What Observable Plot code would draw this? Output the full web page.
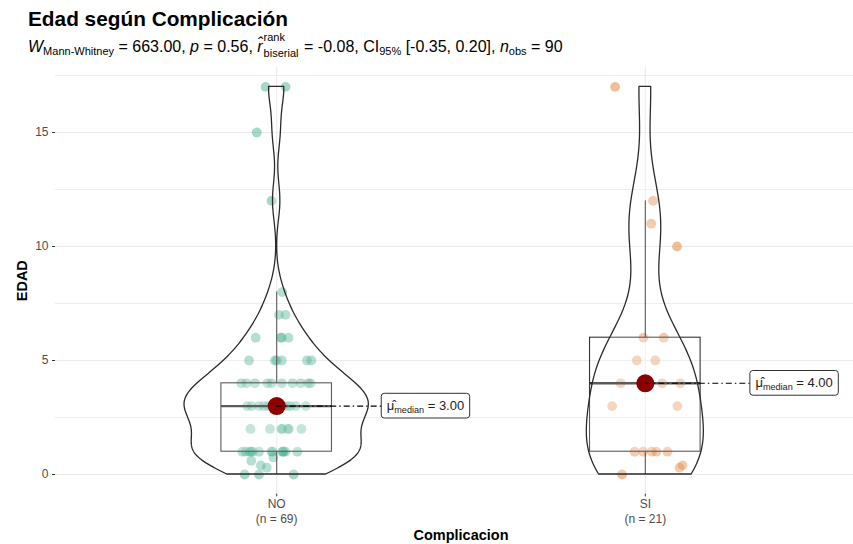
<!DOCTYPE html>
<html>
<head>
<meta charset="utf-8">
<script src="https://cdn.jsdelivr.net/npm/d3@7"></script>
<script src="https://cdn.jsdelivr.net/npm/@observablehq/plot@0.6"></script>
<style>
  body { margin: 0; background: #fff; width: 853px; height: 544px; overflow: hidden;
         font-family: "Liberation Sans", Arial, sans-serif; }
  #head { position: relative; width: 853px; height: 60px; }
  #title { position: absolute; left: 28px; top: 7px; font-size: 20.8px; font-weight: bold;
           color: #000; white-space: nowrap; line-height: 24px; }
  #sub { position: absolute; left: 28px; top: 38px; font-size: 16px; color: #000;
         white-space: nowrap; line-height: 18px; }
  #sub sub { font-size: 11px; vertical-align: -3px; line-height: 0; }
  .stack { display: inline-block; position: relative; width: 37px; height: 10px; vertical-align: baseline; }
  .stack .up { position: absolute; left: 1px; top: -10px; font-size: 11px; line-height: 10px; }
  .stack .dn { position: absolute; left: 1px; top: 6px; font-size: 11px; line-height: 10px; }
  svg g[aria-label^="y-axis"] text, svg g[aria-label^="x-axis"] text { fill: #4D4D4D; }
</style>
</head>
<body>
<div id="head">
  <div id="title">Edad según Complicación</div>
  <div id="sub"><i>W</i><sub>Mann-Whitney</sub> = 663.00, <i>p</i> = 0.56, <i>r̂</i><span class="stack"><span class="up">rank</span><span class="dn">biserial</span></span> = -0.08, CI<sub>95%</sub> [-0.35, 0.20], <i>n</i><sub>obs</sub> = 90</div>
</div>
<script>
// ---------- data ----------
const categories = ["NO", "SI"];
const groupN = [69, 21];
const groupColors = ["#1B9E77", "#D95F02"];

// EDAD values for Complicacion = NO
const noEdad = [
  17, 17, 15, 12, 8, 7, 7, 6, 6, 6, 6,
  5, 5, 5, 5, 5, 5,
  4, 4, 4, 4, 4, 4, 4, 4, 4, 4,
  3, 3, 3, 3, 3, 3, 3, 3, 3, 3, 3, 3, 3, 3, 3,
  2, 2, 2, 2, 2, 2, 2,
  1, 1, 1, 1, 1, 1, 1, 1, 1, 1, 1, 1, 1,
  0.75, 0.6, 0.4, 0.3,
  0, 0, 0
];
// horizontal jitter of each NO point (category units)
const noJitter = [
  -0.030, 0.024, -0.054, -0.014, 0.015, 0.006, 0.024, -0.057, 0.011, 0.032, 0.014,
  -0.075, -0.005, 0.014, 0.082, 0.094, 0.000,
  -0.096, -0.082, -0.059, -0.025, -0.014, 0.014, 0.043, 0.065, 0.085, 0.092,
  -0.080, -0.068, -0.048, -0.035, -0.024, -0.014, -0.003, 0.000, 0.008, 0.014, 0.019, 0.029, 0.038, 0.052, 0.079,
  -0.071, -0.018, 0.013, 0.015, 0.030, 0.033, 0.067,
  -0.093, -0.084, -0.073, -0.070, -0.065, -0.048, -0.014, -0.011, 0.015, 0.017, 0.019, 0.024, 0.056,
  -0.009, -0.069, -0.043, -0.027,
  -0.087, -0.048, 0.046
];

// EDAD values for Complicacion = SI
const siEdad = [17, 12, 11, 10, 6, 6, 5, 5, 4, 4, 4, 3, 3, 1, 1, 1, 1, 1, 0.4, 0.3, 0];
const siJitter = [
  -0.082, 0.021, 0.016, 0.086, -0.005, 0.050, -0.023, 0.027, -0.067, 0.046, 0.095,
  -0.090, 0.087, -0.029, -0.006, 0.018, 0.030, 0.060, 0.101, 0.093, -0.063
];

const yTicks = [0, 5, 10, 15];
const yMinor = [2.5, 7.5, 12.5, 17.5];

// ---------- derived tables ----------
const groups = [noEdad, siEdad];
const jitters = [noJitter, siJitter];
const points = groups.map((vals, g) => vals.map((v, i) => ({pos: g + 1, edad: v, jit: jitters[g][i]})));

function bwNrd0(x) {
  const sd = d3.deviation(x);
  const s = x.slice().sort(d3.ascending);
  const iqr = d3.quantileSorted(s, 0.75) - d3.quantileSorted(s, 0.25);
  const lo = Math.min(sd, iqr / 1.34);
  return 0.9 * lo * Math.pow(x.length, -0.2);
}

const stats = groups.map((vals, g) => {
  const s = vals.slice().sort(d3.ascending);
  const q1 = d3.quantileSorted(s, 0.25), med = d3.quantileSorted(s, 0.5), q3 = d3.quantileSorted(s, 0.75);
  const iqr = q3 - q1;
  const hi = d3.max(s.filter(v => v <= q3 + 1.5 * iqr));
  const lo = d3.min(s.filter(v => v >= q1 - 1.5 * iqr));
  return {pos: g + 1, q1, med, q3, hi, lo, label: d3.format(".2f")(med)};
});

// gaussian kernel density, trimmed to the data range (like geom_violin, trim = TRUE)
const dens = groups.map((vals, g) => {
  const bw = bwNrd0(vals);
  const mn = d3.min(vals), mx = d3.max(vals), n = 512;
  const out = [];
  for (let k = 0; k < n; k++) {
    const y = mn + (mx - mn) * k / (n - 1);
    let s = 0;
    for (const v of vals) { const u = (y - v) / bw; s += Math.exp(-0.5 * u * u); }
    out.push({pos: g + 1, y, d: s / (vals.length * bw * Math.sqrt(2 * Math.PI))});
  }
  return out;
});
const maxD = d3.max(dens.flat(), d => d.d);
const violin = dens.flat().map(r => ({pos: r.pos, y: r.y, x1: r.pos - 0.25 * r.d / maxD, x2: r.pos + 0.25 * r.d / maxD}));

const xCats = categories.map((c, i) => ({pos: i + 1, c, n: groupN[i]}));

// ---------- label mark ----------
const ctx = document.createElement("canvas").getContext("2d");
function tw(str, size) { ctx.font = `${size}px "Liberation Sans"`; return ctx.measureText(str).width; }

function medianLabels(index, scales) {
  const g = d3.create("svg:g");
  if (!scales || typeof scales.x !== "function") return g.node();
  for (const s of stats) {
    const x0 = scales.x(s.pos + 0.285), y0 = scales.y(s.med);
    const rest = " = " + s.label;
    const pad = 5.5;
    const w = tw("μ", 13) + tw("median", 9.1) + tw(rest, 13) + 2 * pad;
    const gg = g.append("g").attr("transform", `translate(${x0},${y0})`);
    gg.append("rect").attr("x", 0).attr("y", -12.3).attr("width", w).attr("height", 24.7)
      .attr("rx", 3).attr("fill", "white").attr("stroke", "#333").attr("stroke-width", 1);
    const t = gg.append("text").attr("x", pad).attr("y", 4.6).attr("fill", "#222")
      .attr("text-anchor", "start")
      .attr("font-size", 13).attr("font-family", '"Liberation Sans", Arial, sans-serif');
    t.append("tspan").text("μ\u0302");
    t.append("tspan").attr("font-size", 9.1).attr("dy", 3).text("median");
    t.append("tspan").attr("dy", -3).text(rest);
  }
  return g.node();
}

const chart = Plot.plot({
  width: 853,
  height: 484,
  marginTop: 7,
  marginBottom: 50.6,
  marginLeft: 55,
  marginRight: 0,
  style: {fontFamily: '"Liberation Sans", Arial, sans-serif', fontSize: "12px", color: "#333", background: "white"},
  x: {domain: [0.4, 2.6], range: [55, 866], ticks: [1, 2], tickFormat: () => "", tickSize: 3, label: null},
  y: {domain: [-0.85, 17.85], ticks: yTicks, tickSize: 3, tickPadding: 4, label: null},
  marks: [
    Plot.ruleY(yMinor, {stroke: "#EBEBEB", strokeWidth: 0.9}),
    Plot.ruleY(yTicks, {stroke: "#EBEBEB", strokeWidth: 1.1}),
    Plot.ruleX([1, 2], {stroke: "#EBEBEB", strokeWidth: 1.1}),
    Plot.dot(points[0], {x: d => d.pos + d.jit, y: "edad", r: 4.9, fill: groupColors[0], fillOpacity: 0.4, stroke: null}),
    Plot.dot(points[1], {x: d => d.pos + d.jit, y: "edad", r: 4.9, fill: groupColors[1], fillOpacity: 0.4, stroke: null}),
    Plot.ruleX(stats, {x: "pos", y1: "q3", y2: "hi", stroke: "#333", strokeWidth: 1.1}),
    Plot.ruleX(stats, {x: "pos", y1: "lo", y2: "q1", stroke: "#333", strokeWidth: 1.1}),
    Plot.rect(stats, {x1: d => d.pos - 0.15, x2: d => d.pos + 0.15, y1: "q1", y2: "q3",
      fill: "white", fillOpacity: 0.2, stroke: "#333", strokeWidth: 1.1}),
    Plot.ruleY(stats, {y: "med", x1: d => d.pos - 0.15, x2: d => d.pos + 0.15, stroke: "#333", strokeWidth: 2.4}),
    Plot.areaX(violin, {y: "y", x1: "x1", x2: "x2", z: "pos", fill: "white", fillOpacity: 0.2,
      stroke: "#2a2a2a", strokeWidth: 1.3, strokeLinejoin: "round"}),
    Plot.dot(stats, {x: "pos", y: "med", r: 9, fill: "#8B0000", stroke: null}),
    Plot.ruleY(stats, {y: "med", x1: "pos", x2: d => d.pos + 0.285, stroke: "#000", strokeWidth: 1.1,
      strokeDasharray: "6,3,1.5,3"}),
    medianLabels,
    Plot.text(xCats, {x: "pos", text: "c", frameAnchor: "bottom", lineAnchor: "middle", textAnchor: "middle",
      dy: 10.5, fontSize: 12, fill: "#4D4D4D"}),
    Plot.text(xCats, {x: "pos", text: d => `(n = ${d.n})`, frameAnchor: "bottom", lineAnchor: "middle",
      textAnchor: "middle", dy: 25, fontSize: 12, fill: "#4D4D4D"}),
    Plot.text(["Complicacion"], {text: d => d, frameAnchor: "bottom", lineAnchor: "middle", textAnchor: "middle",
      dx: 6.5, dy: 41, fontSize: 14.5, fontWeight: "bold", fill: "#000"}),
    Plot.text(["EDAD"], {text: d => d, frameAnchor: "left", lineAnchor: "middle", textAnchor: "middle",
      dx: -33, rotate: -90, fontSize: 14.5, fontWeight: "bold", fill: "#000"})
  ]
});
document.body.appendChild(chart);
</script>
</body>
</html>
